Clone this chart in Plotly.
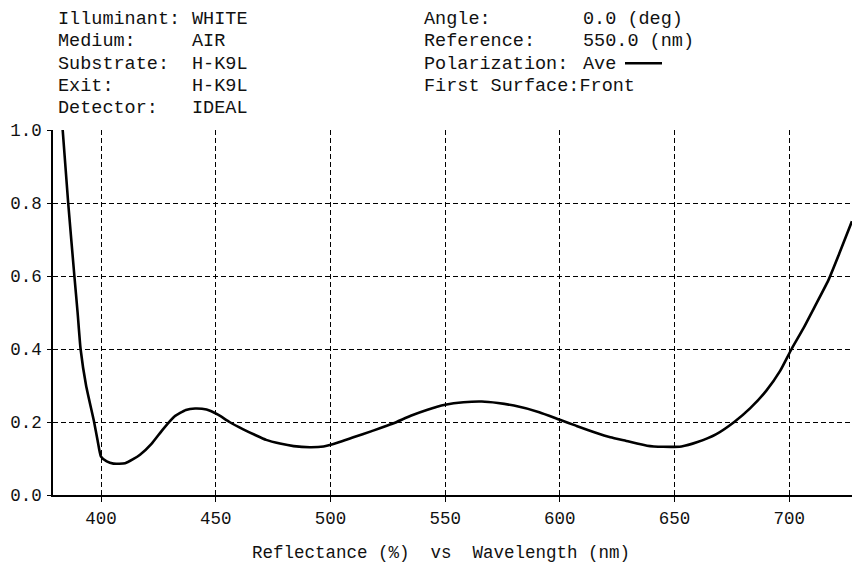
import plotly.graph_objects as go

# Wavelength (nm) and reflectance values of the coating curve
wavelength = [383.3, 385.7, 388.4, 389.8, 391.1, 393.5, 397.0, 398.5, 400.0, 402.5,
              405.4, 410.5, 414.0, 417.0, 422.0, 427.0, 432.0, 437.0, 441.0, 446.0,
              451.0, 456.0, 462.0, 467.0, 472.0, 478.0, 484.0, 491.0, 497.0, 503.0,
              510.0, 518.0, 527.0, 535.0, 542.0, 550.0, 558.0, 566.0, 573.0, 580.0,
              591.0, 600.0, 607.0, 615.0, 622.0, 629.0, 638.0, 645.0, 653.0, 660.0,
              668.0, 676.0, 683.0, 690.0, 696.0, 701.0, 706.0, 711.0, 717.0, 722.0,
              727.3]
reflectance = [1.00, 0.80, 0.60, 0.50, 0.40, 0.30, 0.20, 0.15, 0.105, 0.092,
               0.086, 0.087, 0.098, 0.110, 0.140, 0.180, 0.215, 0.233, 0.237, 0.234,
               0.220, 0.200, 0.180, 0.165, 0.151, 0.141, 0.134, 0.131, 0.133, 0.143,
               0.158, 0.175, 0.195, 0.217, 0.233, 0.247, 0.254, 0.256, 0.252, 0.245,
               0.227, 0.206, 0.190, 0.172, 0.158, 0.148, 0.135, 0.132, 0.133, 0.145,
               0.166, 0.200, 0.238, 0.286, 0.340, 0.400, 0.455, 0.515, 0.588, 0.665,
               0.750]

x_ticks = [400, 450, 500, 550, 600, 650, 700]
y_ticks = [0.0, 0.2, 0.4, 0.6, 0.8, 1.0]

header_left = [("Illuminant:", "WHITE"), ("Medium:", "AIR"), ("Substrate:", "H-K9L"),
               ("Exit:", "H-K9L"), ("Detector:", "IDEAL")]
header_right = [("Angle:", "0.0 (deg)"), ("Reference:", "550.0 (nm)"),
                ("Polarization:", "Ave"), ("First Surface:Front", "")]

W, H = 852, 565
L, R, T, B = 53, 0, 130, 70
FONT = "Liberation Mono, Courier New, monospace"
INK = "#111"


def px(xp):
    return (xp - L) / (W - L - R)


def py(yp):
    return (H - B - yp) / (H - T - B)


fig = go.Figure()
fig.add_trace(go.Scatter(
    x=wavelength, y=reflectance, mode="lines",
    line=dict(color="black", width=2.6, shape="spline", smoothing=0.5),
    showlegend=False, hoverinfo="skip",
))

annotations = []
row_y = [19, 41.5, 64, 86.5, 108.5]
for (lab, val), yy in zip(header_left, row_y):
    annotations.append(dict(x=px(57), y=py(yy), text=lab))
    annotations.append(dict(x=px(190.5), y=py(yy), text=val))
for (lab, val), yy in zip(header_right, row_y):
    annotations.append(dict(x=px(423), y=py(yy), text=lab))
    if val:
        annotations.append(dict(x=px(582), y=py(yy), text=val))
for a in annotations:
    a.update(xanchor="left", yanchor="middle", borderpad=0,
             font=dict(family=FONT, size=18.5, color=INK))

annotations.append(dict(x=px(441), y=py(553),
                        text="Reflectance (%)\u00a0\u00a0vs\u00a0\u00a0Wavelength (nm)",
                        xanchor="center", yanchor="middle", borderpad=0,
                        font=dict(family=FONT, size=17.5, color=INK)))
for a in annotations:
    a.update(xref="paper", yref="paper", showarrow=False)

fig.update_layout(
    width=W, height=H,
    margin=dict(l=L, r=R, t=T, b=B, pad=0),
    paper_bgcolor="white", plot_bgcolor="white",
    annotations=annotations,
    # legend sample line after "Polarization: Ave"
    shapes=[dict(type="line", xref="paper", yref="paper",
                 x0=px(625), x1=px(662), y0=py(63.3), y1=py(63.3),
                 line=dict(color="black", width=2.6))],
    font=dict(family=FONT, size=17.5, color=INK),
)
axis_common = dict(
    ticks="outside", tickcolor="black", showline=True, linecolor="black",
    linewidth=1.5, showgrid=True, gridcolor="black", gridwidth=1,
    griddash="5px,3px", zeroline=False,
    tickfont=dict(family=FONT, size=17.5, color=INK),
)
fig.update_xaxes(range=[379.08, 727.33], tickvals=x_ticks, ticklen=5,
                 ticklabelstandoff=1, **axis_common)
fig.update_yaxes(range=[0, 1.0], tickvals=y_ticks, tickformat=".1f", ticklen=4,
                 ticklabelstandoff=2, **axis_common)

fig.write_html("out.html")
